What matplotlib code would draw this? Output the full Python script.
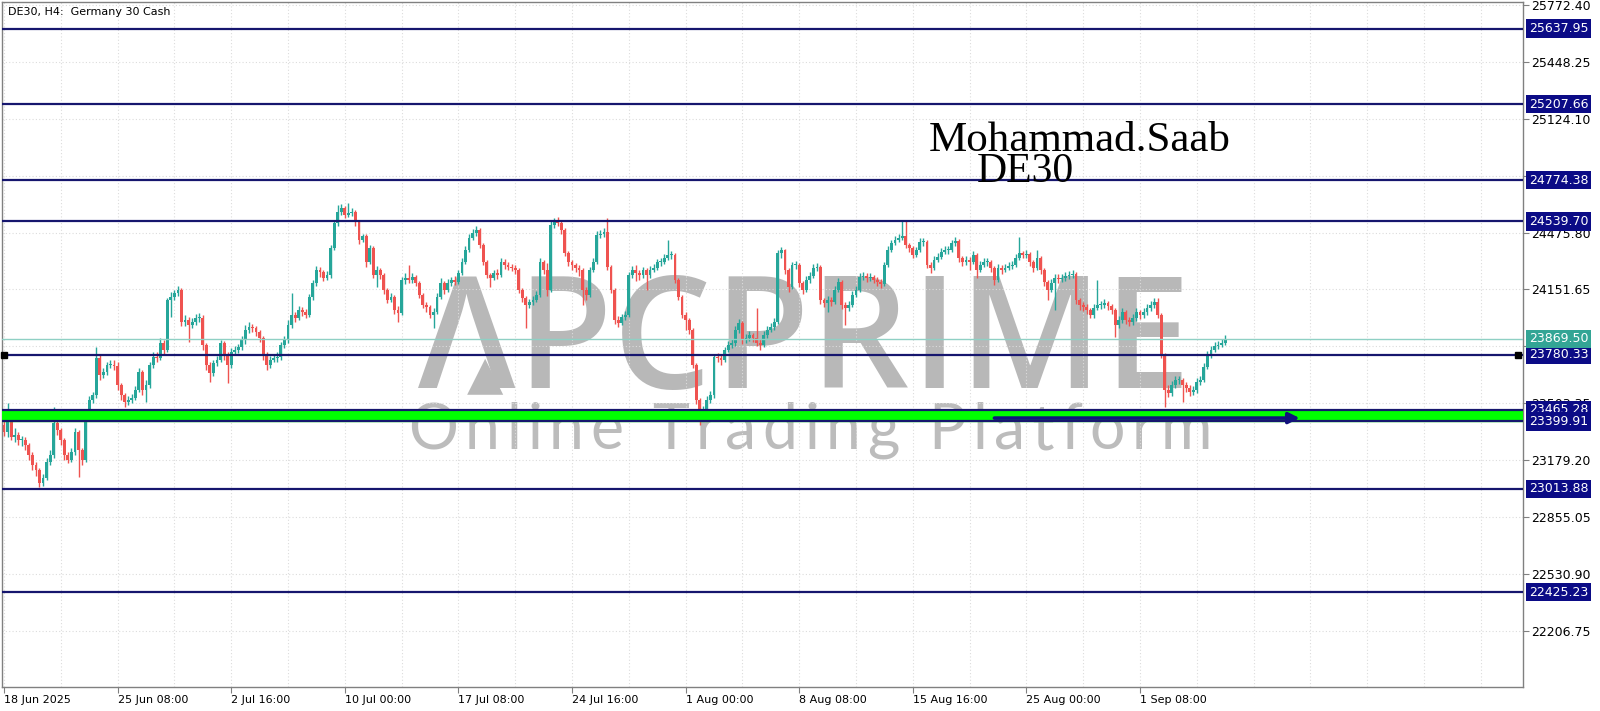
import matplotlib
matplotlib.use("Agg")
import matplotlib.pyplot as plt
import numpy as np

# ---- DE30 H4 candles (bar index 0 = 18 Jun 2025 00:00) ----
first_open = 23379
close = [
    23339, 23424, 23310, 23322, 23293, 23293, 23265, 23208, 23151, 23122,
    23048, 23076, 23168, 23208, 23390, 23350, 23293, 23208, 23179, 23225,
    23339, 23236, 23179, 23424, 23521, 23550, 23760, 23664, 23681, 23721,
    23721, 23715, 23607, 23550, 23510, 23521, 23532, 23578, 23681, 23578,
    23607, 23721, 23766, 23760, 23846, 23806, 24091, 24108, 24131, 24148,
    23966, 23977, 23949, 23966, 23988, 23988, 23835, 23721, 23675, 23732,
    23749, 23846, 23778, 23721, 23795, 23806, 23823, 23863, 23920, 23937,
    23931, 23909, 23874, 23778, 23721, 23749, 23760, 23766, 23835, 23863,
    23949, 24006, 23988, 24034, 24023, 24006, 24108, 24188, 24262, 24251,
    24216, 24234, 24387, 24530, 24593, 24615, 24576, 24587, 24593, 24536,
    24433, 24456, 24308, 24387, 24234, 24262, 24234, 24148, 24091, 24108,
    24034, 24017, 24205, 24216, 24205, 24222, 24188, 24120, 24063, 24051,
    24006, 24023, 24108, 24188, 24148, 24188, 24205, 24194, 24245, 24308,
    24376, 24444, 24473, 24490, 24405, 24308, 24234, 24216, 24245, 24234,
    24308, 24291, 24279, 24273, 24262, 24148, 24102, 24063, 24080, 24091,
    24120, 24308, 24262, 24148, 24519, 24536, 24530, 24490, 24359, 24308,
    24291, 24273, 24262, 24148, 24120, 24262, 24308, 24462, 24467, 24479,
    24279, 24148, 23977, 23960, 23994, 24006, 24234, 24262, 24245, 24234,
    24262, 24234, 24262, 24273, 24308, 24308, 24330, 24348, 24348, 24205,
    24108, 24006, 23977, 23920, 23721, 23521, 23436, 23464, 23521, 23550,
    23766, 23760, 23749, 23806, 23835, 23846, 23920, 23960, 23863, 23874,
    23892, 23874, 23846, 23835, 23892, 23920, 23937, 23966, 24359, 24376,
    24262, 24165, 24291, 24291, 24188, 24148, 24205, 24228, 24273, 24279,
    24091, 24074, 24091, 24080, 24148, 24194, 24063, 24045, 24063, 24120,
    24148, 24222, 24228, 24216, 24222, 24205, 24194, 24182, 24291, 24376,
    24416, 24433, 24444, 24456, 24405, 24387, 24348, 24376, 24422, 24422,
    24291, 24273, 24319, 24336, 24365, 24376, 24376, 24416, 24427, 24330,
    24308, 24319, 24308, 24348, 24262, 24291, 24308, 24308, 24273, 24205,
    24273, 24262, 24273, 24285, 24291, 24330, 24359, 24348, 24353, 24308,
    24273, 24330, 24262, 24194, 24148, 24188, 24216, 24211, 24216, 24228,
    24234, 24239, 24091, 24063, 24051, 24034, 24006, 24045, 24063, 24063,
    24074, 24057, 24034, 23949, 23977, 24023, 23977, 23966, 23988, 24023,
    24006, 24023, 24045, 24063, 24080, 24006, 23778, 23578, 23561, 23607,
    23635, 23635, 23607, 23589, 23567, 23578, 23624, 23635, 23709, 23778,
    23806, 23829, 23835, 23846, 23869.5,
]
high = [
    23407, 23504, 23441, 23361, 23339, 23316, 23310, 23276, 23225, 23168,
    23133, 23099, 23191, 23236, 23481, 23407, 23361, 23305, 23225, 23248,
    23361, 23350, 23248, 23447, 23544, 23567, 23823, 23778, 23703, 23738,
    23749, 23749, 23738, 23618, 23561, 23544, 23555, 23601, 23703, 23692,
    23635, 23738, 23795, 23795, 23874, 23863, 24102, 24137, 24148, 24171,
    24159, 24006, 23994, 23988, 24011, 24017, 24006, 23846, 23738, 23749,
    23772, 23863, 23857, 23795, 23817, 23829, 23840, 23886, 23949, 23966,
    23954, 23943, 23920, 23886, 23795, 23772, 23783, 23795, 23852, 23886,
    23977, 24131, 24023, 24057, 24051, 24040, 24125, 24205, 24285, 24279,
    24262, 24256, 24405, 24547, 24633, 24638, 24627, 24644, 24615, 24604,
    24547, 24467, 24467, 24405, 24399, 24285, 24273, 24245, 24159, 24131,
    24120, 24057, 24222, 24245, 24291, 24245, 24234, 24199, 24131, 24080,
    24063, 24045, 24131, 24216, 24199, 24211, 24222, 24228, 24262, 24330,
    24399, 24467, 24496, 24513, 24501, 24416, 24319, 24245, 24262, 24268,
    24330, 24325, 24308, 24296, 24291, 24273, 24159, 24114, 24097, 24114,
    24142, 24330, 24319, 24302, 24541, 24558, 24564, 24541, 24501, 24370,
    24319, 24302, 24291, 24273, 24165, 24279, 24330, 24484, 24490, 24501,
    24558, 24291, 24159, 24000, 24011, 24028, 24251, 24285, 24291, 24262,
    24279, 24273, 24285, 24296, 24325, 24330, 24353, 24433, 24370, 24359,
    24216, 24120, 24023, 23988, 23931, 23732, 23532, 23487, 23544, 23572,
    23783, 23789, 23778, 23823, 23857, 23869, 23943, 23983, 23971, 23897,
    23914, 23903, 24045, 23869, 23914, 23943, 23960, 23988, 24376, 24393,
    24382, 24273, 24308, 24313, 24302, 24199, 24228, 24251, 24296, 24302,
    24291, 24102, 24114, 24108, 24171, 24216, 24205, 24080, 24085, 24142,
    24171, 24245, 24251, 24245, 24245, 24234, 24222, 24211, 24308, 24399,
    24433, 24456, 24467, 24547, 24547, 24416, 24399, 24393, 24444, 24444,
    24433, 24308, 24342, 24359, 24387, 24399, 24399, 24433, 24450, 24439,
    24342, 24342, 24336, 24370, 24359, 24313, 24330, 24330, 24319, 24285,
    24296, 24291, 24296, 24308, 24313, 24353, 24450, 24370, 24376, 24365,
    24319, 24376, 24342, 24273, 24205, 24211, 24239, 24239, 24239, 24251,
    24256, 24262, 24251, 24102, 24080, 24068, 24045, 24068, 24205, 24085,
    24097, 24085, 24068, 24045, 24000, 24045, 24034, 23994, 24011, 24045,
    24034, 24045, 24068, 24085, 24102, 24102, 24017, 23789, 23607, 23629,
    23658, 23658, 23647, 23624, 23607, 23601, 23647, 23658, 23732, 23800,
    23829, 23852, 23857, 23869, 23892,
]
low = [
    23316, 23310, 23293, 23282, 23265, 23259, 23236, 23179, 23122, 23088,
    23025, 23031, 23065, 23151, 23191, 23322, 23265, 23179, 23162, 23168,
    23208, 23082, 23151, 23168, 23418, 23504, 23532, 23635, 23647, 23664,
    23703, 23692, 23578, 23521, 23481, 23493, 23504, 23521, 23567, 23550,
    23510, 23589, 23703, 23738, 23749, 23783, 23795, 23994, 24091, 24114,
    23943, 23943, 23852, 23931, 23949, 23966, 23806, 23692, 23624, 23658,
    23715, 23738, 23749, 23618, 23703, 23778, 23789, 23806, 23840, 23903,
    23909, 23886, 23852, 23749, 23692, 23703, 23738, 23738, 23749, 23817,
    23846, 23931, 23966, 23977, 24000, 23988, 23994, 24091, 24171, 24222,
    24199, 24205, 24216, 24376, 24513, 24576, 24558, 24564, 24570, 24513,
    24410, 24422, 24279, 24296, 24216, 24165, 24211, 24125, 24074, 24080,
    24011, 23966, 24006, 24182, 24188, 24188, 24171, 24102, 24045, 24023,
    23988, 23931, 24011, 24097, 24125, 24137, 24171, 24177, 24182, 24234,
    24296, 24365, 24433, 24456, 24387, 24291, 24216, 24165, 24205, 24211,
    24222, 24268, 24262, 24256, 24239, 24131, 24080, 23931, 24045, 24063,
    24080, 24108, 24239, 24114, 24137, 24501, 24513, 24467, 24342, 24285,
    24262, 24251, 24228, 24063, 24091, 24108, 24251, 24296, 24444, 24450,
    24262, 24131, 23954, 23937, 23949, 23977, 23994, 24216, 24199, 24205,
    24216, 24148, 24216, 24251, 24262, 24285, 24296, 24319, 24325, 24188,
    24091, 23988, 23920, 23897, 23703, 23498, 23379, 23418, 23447, 23504,
    23532, 23738, 23721, 23738, 23795, 23817, 23829, 23903, 23840, 23846,
    23857, 23852, 23829, 23806, 23823, 23874, 23909, 23920, 23954, 24330,
    24239, 24137, 24154, 24268, 24165, 24125, 24137, 24188, 24216, 24256,
    24068, 24051, 24023, 24057, 24068, 24137, 24040, 23949, 24028, 24051,
    24108, 24137, 24205, 24194, 24199, 24188, 24171, 24159, 24171, 24279,
    24365, 24405, 24422, 24433, 24387, 24365, 24330, 24336, 24365, 24399,
    24273, 24245, 24262, 24308, 24325, 24353, 24353, 24365, 24399, 24308,
    24285, 24291, 24262, 24296, 24216, 24251, 24279, 24285, 24251, 24177,
    24194, 24239, 24251, 24262, 24268, 24279, 24319, 24330, 24330, 24285,
    24251, 24262, 24239, 24171, 24091, 24137, 24034, 24188, 24194, 24199,
    24211, 24216, 24068, 24034, 24028, 24011, 23988, 23988, 24034, 24040,
    24045, 24034, 24011, 23880, 23931, 23960, 23954, 23943, 23949, 23971,
    23983, 23988, 24006, 24028, 24045, 23988, 23760, 23481, 23538, 23544,
    23589, 23612, 23510, 23567, 23544, 23550, 23561, 23607, 23624, 23698,
    23760, 23795, 23812, 23823, 23835,
]

# horizontal levels drawn on the chart
levels = [25637.95, 25207.66, 24774.38, 24539.70, 23780.33, 23013.88, 22425.23]
zone_low, zone_high = 23399.91, 23465.28
last_price = 23869.50

y_ticks = [22206.75, 22530.90, 22855.05, 23179.20, 23503.35, 23827.50,
           24151.65, 24475.80, 24799.95, 25124.10, 25448.25, 25772.40]
x_tick_bars = [0, 32, 64, 96, 128, 160, 192, 224, 256, 288, 320]
x_tick_labels = ["18 Jun 2025", "25 Jun 08:00", "2 Jul 16:00", "10 Jul 00:00",
                 "17 Jul 08:00", "24 Jul 16:00", "1 Aug 00:00", "8 Aug 08:00",
                 "15 Aug 16:00", "25 Aug 00:00", "1 Sep 08:00"]

# arrow under the support zone
arrow_from, arrow_to, arrow_price = 279, 365, 23418

NAVY = "#16166e"
BOX = "#0b0b86"
BULL = "#26a69a"
BEAR = "#ef5350"
WM = "#b8b8b8"

n = min(len(close), len(high), len(low))
c = np.array(close[:n], dtype=float)
o = np.concatenate([[first_open], c[:-1]])
h = np.maximum(np.array(high[:n], dtype=float), np.maximum(o, c))
l = np.minimum(np.array(low[:n], dtype=float), np.minimum(o, c))
x = np.arange(n)

fig = plt.figure(figsize=(16, 7.11), dpi=100)
ax = fig.add_axes([2 / 1600, 24 / 711, 1521 / 1600, 685 / 711])
ax.set_zorder(1)
ax.patch.set_alpha(0)
ax.set_xlim(-0.56, 427.9)
ax.set_ylim(21885, 25790)
renderer = fig.canvas.get_renderer()


def tracked_text(s, x0, x1, y, **kw):
    # spread the letters of s evenly between figure pixels x0 and x1
    def width(t):
        a = fig.text(0, 0, t + "|", **kw)
        b = fig.text(0, 0, "|", **kw)
        w = a.get_window_extent(renderer).width - b.get_window_extent(renderer).width
        a.remove()
        b.remove()
        return w
    pre = [width(s[:k]) for k in range(len(s) + 1)]
    extra = (x1 - x0 - pre[-1]) / (len(s) - 1)
    for k, ch in enumerate(s):
        fig.text((x0 + pre[k] + k * extra) / 1600, y, ch, ha="left",
                 va="baseline", zorder=0, **kw)


# grid
for gx in range(0, 430, 16):
    ax.axvline(gx, color="#dcdcdc", lw=0.8, ls=(0, (1, 2)), zorder=0)
for gy in y_ticks:
    ax.axhline(gy, color="#dcdcdc", lw=0.8, ls=(0, (1, 2)), zorder=0)

# watermark, on the figure underneath the transparent axes
tracked_text("\u039bPCPRIME", 418, 1190, 1 - 388 / 711, fontsize=112,
             color=WM, fontweight="semibold",
             family=["Open Sans", "DejaVu Sans"])
fig.text(485 / 1600, 1 - 388 / 711, "\u25b2", ha="center", va="baseline",
         fontsize=34, color=WM, family="DejaVu Sans", zorder=0)
tracked_text("Online Trading Platform", 408, 1212, 1 - 449 / 711,
             fontsize=45, color="#bcbcbc", fontweight="normal",
             family=["Lato", "DejaVu Sans"])

# candles
up = c >= o
colors = np.where(up, BULL, BEAR)
ax.vlines(x, l, h, colors=colors, lw=1.0, zorder=2)
body_lo = np.minimum(o, c)
body_h = np.maximum(np.abs(c - o), 5)
ax.bar(x, body_h, bottom=body_lo, width=0.8, color=colors, lw=0, zorder=2.1)

# levels and zone
ax.axhspan(zone_low, zone_high, color="#00ff00", zorder=3)
for lv in [zone_low, zone_high]:
    ax.axhline(lv, color=NAVY, lw=1.6, zorder=3.2)
for lv in levels:
    ax.axhline(lv, color=NAVY, lw=1.6, zorder=3.2)
ax.axhline(last_price, color="#8fd0c4", lw=1.0, zorder=3.1)
ax.plot([0.0015, 0.9965], [levels[4], levels[4]], "s", color="black", ms=5,
        transform=ax.get_yaxis_transform(), clip_on=False, zorder=6)

ax.annotate("", xy=(arrow_to, arrow_price), xytext=(arrow_from, arrow_price),
            arrowprops=dict(arrowstyle="-|>", color="#12127e", lw=2.6,
                            mutation_scale=16, shrinkA=0, shrinkB=0),
            zorder=4)

# signature
ax.text(0.6095, 0.782, "Mohammad.Saab", transform=ax.transAxes, ha="left",
        va="baseline", fontsize=31, family="Liberation Serif", color="black",
        zorder=5)
ax.text(0.641, 0.737, "DE30", transform=ax.transAxes, ha="left",
        va="baseline", fontsize=30, family="Liberation Serif", color="black",
        zorder=5)

ax.text(0.004, 0.992, "DE30, H4:  Germany 30 Cash", transform=ax.transAxes,
        ha="left", va="top", fontsize=8, family="DejaVu Sans", zorder=5)

# axes styling
ax.yaxis.tick_right()
ax.set_yticks(y_ticks)
ax.set_yticklabels([f"{v:.2f}" for v in y_ticks])
ax.set_xticks(x_tick_bars)
ax.set_xticklabels(x_tick_labels, ha="left")
ax.tick_params(axis="y", direction="out", length=4, pad=2, labelsize=9,
               color="#808080")
ax.tick_params(axis="x", direction="out", length=4, pad=2, labelsize=8,
               color="#808080")
for sp in ax.spines.values():
    sp.set_color("#808080")
    sp.set_linewidth(1)

# price labels on the right axis (cover the tick labels underneath)
tr = ax.get_yaxis_transform()
box_x = 1.0 + 6 / 1521
for lv in levels + [zone_high, zone_low]:
    ax.text(box_x, lv, f"{lv:.2f}", transform=tr, ha="left", va="center",
            fontsize=9, color="white", clip_on=False, zorder=8,
            bbox=dict(boxstyle="square,pad=0.22", fc=BOX, ec="none"))
ax.text(box_x, last_price, f"{last_price:.2f}", transform=tr, ha="left",
        va="center", fontsize=9, color="white", clip_on=False, zorder=8,
        bbox=dict(boxstyle="square,pad=0.22", fc="#33a595", ec="none"))

fig.savefig("out.png", dpi=100, facecolor="white")
